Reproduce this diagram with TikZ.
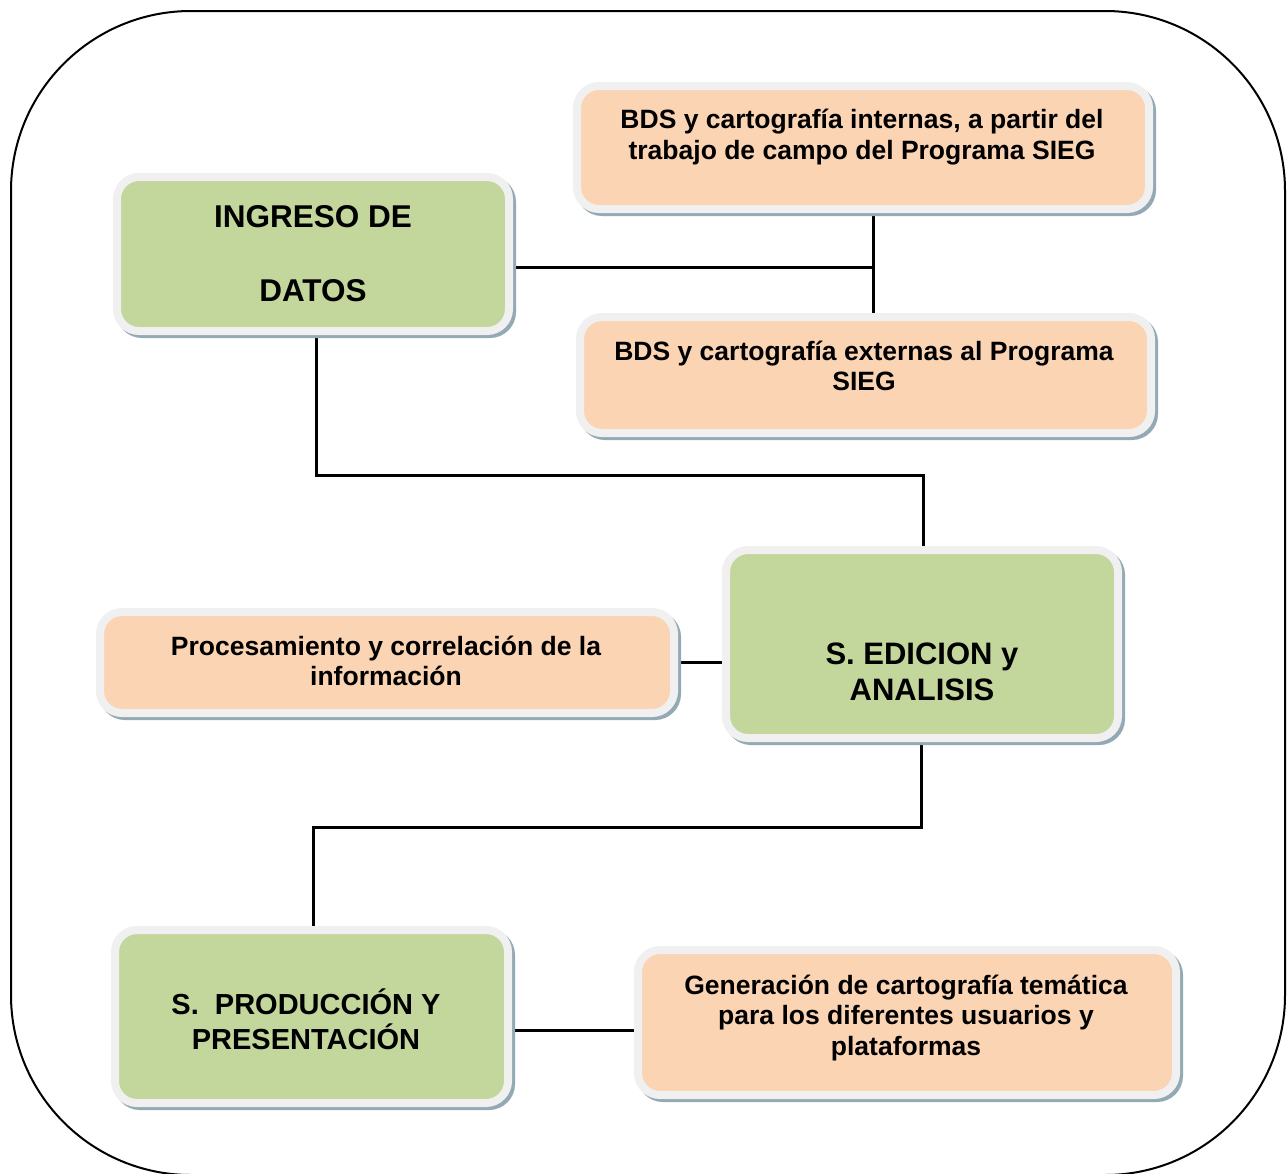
\documentclass[tikz,border=0pt]{standalone}
\usepackage{fontspec}
\setmainfont{Liberation Sans}
\usetikzlibrary{shadows,backgrounds,calc}
\definecolor{grn}{HTML}{C3D69B}
\definecolor{pch}{HTML}{FBD4B4}
\definecolor{frm}{HTML}{F0F0F0}
\definecolor{shd}{HTML}{93A9B3}
\begin{document}
\begin{tikzpicture}[x=1pt,y=-1pt,
  boxbase/.style={rounded corners=22pt, line width=8pt, draw=frm, inner sep=0pt,
    drop shadow={shadow xshift=3pt,shadow yshift=-3pt,opacity=1,fill=shd,draw=shd,line width=8pt}},
  gbox/.style={boxbase, fill=grn},
  pbox/.style={boxbase, fill=pch},
  gtxt/.style={font=\bfseries\fontsize{31}{36}\selectfont, align=center, inner sep=0pt},
  ptxt/.style={font=\bfseries\fontsize{26.5}{30.5}\selectfont, align=center, inner sep=0pt},
  conn/.style={line width=3pt, draw=black}]
\useasboundingbox (0,0) rectangle (1287,1173);
\begin{scope}
  \clip (0,0) rectangle (1287,1173);
  \draw[line width=2pt, rounded corners=180pt] (11,11) rectangle (1285,1175);
\end{scope}

% boxes
\node[gbox, minimum width=392pt, minimum height=154pt] (ing) at (313,254) {};
\node[pbox, minimum width=572pt, minimum height=123pt] (int) at (863,147.5) {};
\node[pbox, minimum width=571pt, minimum height=116pt] (ext) at (865.5,375) {};
\node[gbox, minimum width=392pt, minimum height=188pt] (edi) at (922,644) {};
\node[pbox, minimum width=574pt, minimum height=101pt] (pro) at (387,662.5) {};
\node[gbox, minimum width=393pt, minimum height=173pt] (prod) at (311.5,1016.5) {};
\node[pbox, minimum width=538pt, minimum height=145pt] (gen) at (907,1022.5) {};

% texts
\node[gtxt, font=\bfseries\fontsize{31.5}{36}\selectfont] (ingt) at (313,254) {INGRESO DE\\[38pt]DATOS};
\node[ptxt] (intt) at (862,137) {BDS y cartografía internas, a partir del\\trabajo de campo del Programa SIEG};
\node[ptxt] (extt) at (864,366) {BDS y cartografía externas al Programa\\SIEG};
\node[gtxt] (edit) at (922,672) {S. EDICION y\\ANALISIS};
\node[ptxt] (prot) at (386,661) {Procesamiento y correlación de la\\información};
\node[gtxt, font=\bfseries\fontsize{29}{35}\selectfont] (prodt) at (306,1019) {S.\ \ PRODUCCIÓN Y\\PRESENTACIÓN};
\node[ptxt] (gent) at (906,1018) {Generación de cartografía temática\\para los diferentes usuarios y\\plataformas};

% connectors
\coordinate (j1) at (873,267);
\coordinate (k1) at (316,475);
\coordinate (k2) at (923,475);
\coordinate (m1) at (921,827);
\coordinate (m2) at (313,827);
\coordinate (n1) at (574,1030);
\begin{scope}[on background layer]
  \draw[conn] (ing.east |- j1) -- (j1);
  \draw[conn] (int.south -| j1) -- (ext.north -| j1);
  \draw[conn] (ing.south -| k1) -- (k1) -- (k2) -- (edi.north -| k2);
  \draw[conn] (pro.east) -- (edi.west |- pro.east);
  \draw[conn] (edi.south -| m1) -- (m1) -- (m2) -- (prod.north -| m2);
  \draw[conn] (prod.east |- n1) -- (gen.west |- n1);
\end{scope}
\end{tikzpicture}
\end{document}
